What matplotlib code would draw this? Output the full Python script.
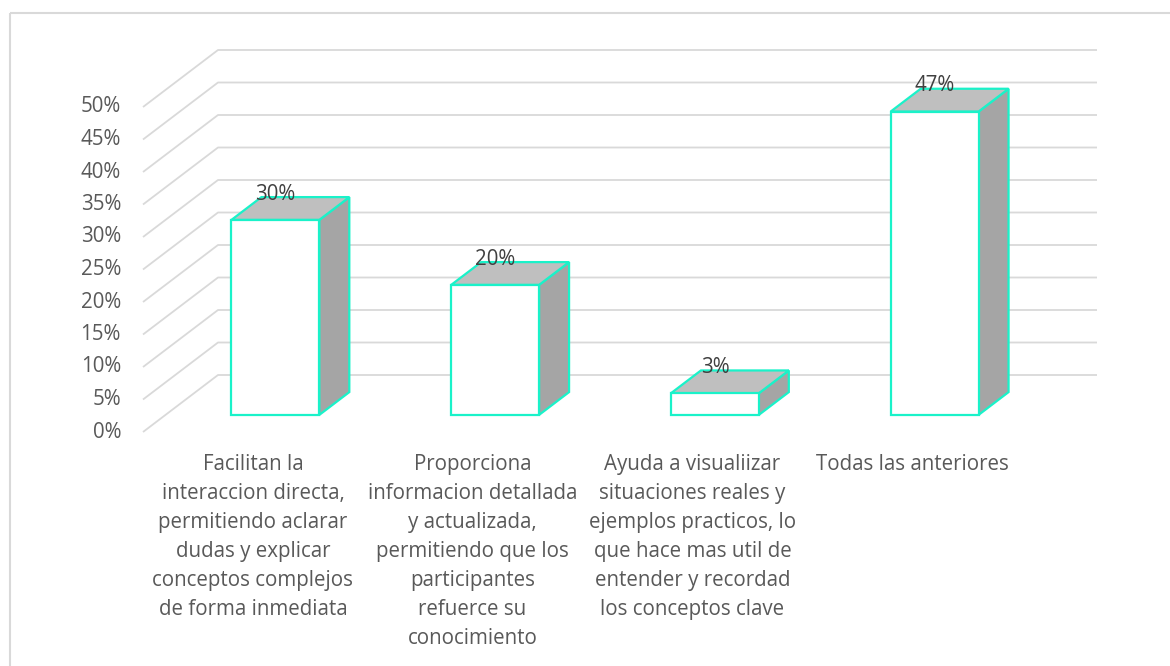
import matplotlib.pyplot as plt
from matplotlib.patches import Polygon, Rectangle

plt.rcParams['font.family'] = ['Open Sans', 'DejaVu Sans']

# --- datos ---
categorias = [
    "Facilitan la\ninteraccion directa,\npermitiendo aclarar\ndudas y explicar\nconceptos complejos\nde forma inmediata",
    "Proporciona\ninformacion detallada\ny actualizada,\npermitiendo que los\nparticipantes\nrefuerce su\nconocimiento",
    "Ayuda a visualiizar\nsituaciones reales y\nejemplos practicos, lo\nque hace mas util de\nentender y recordad\nlos conceptos clave",
    "Todas las anteriores",
]
valores = [30.0, 20.0, 3.33, 46.67]   # %
ticks = [0, 5, 10, 15, 20, 25, 30, 35, 40, 45, 50]

# --- geometria del grafico 3D (pixeles) ---
X0, Y0 = 143, 432        # esquina frontal izquierda del piso (0%)
PX_PCT = 6.5             # pixeles por punto porcentual
DX, DY = 75, 57          # desplazamiento de profundidad
ANCHO = 879              # ancho del area de trazado
D0, D1 = 0.3, 0.7        # profundidad de las barras
FRAC_BARRA = 0.4

grid_c = '#d9d9d9'
borde_c = '#1af2c9'
txt_c = '#595959'
FS = 14.8


def proj(u, v, d):
    return (u + DX * d, Y0 - PX_PCT * v - DY * d)


fig = plt.figure(figsize=(11.7, 6.66), dpi=100)
ax = fig.add_axes([0, 0, 1, 1])
ax.set_xlim(0, 1170)
ax.set_ylim(666, 0)
ax.axis('off')

# marco del grafico
ax.add_patch(Rectangle((10, 13), 1200, 700, fill=False, ec=grid_c, lw=1.5))

# lineas de cuadricula (pared lateral + pared del fondo)
for t in ticks:
    p0 = proj(X0, t, 0)
    p1 = proj(X0, t, 1)
    p2 = proj(X0 + ANCHO, t, 1)
    ax.plot([p0[0], p1[0], p2[0]], [p0[1], p1[1], p2[1]], color=grid_c, lw=1.3,
            solid_capstyle='butt', zorder=1)
    ax.text(p0[0] - 22, p0[1], f"{t}%", ha='right', va='center',
            fontsize=FS, color=txt_c)

# barras
slot = ANCHO / len(valores)
bw = slot * FRAC_BARRA
for i, v in enumerate(valores):
    uc = X0 + slot * (i + 0.5)
    ul, ur = uc - bw / 2, uc + bw / 2
    frente = [proj(ul, 0, D0), proj(ur, 0, D0), proj(ur, v, D0), proj(ul, v, D0)]
    arriba = [proj(ul, v, D0), proj(ur, v, D0), proj(ur, v, D1), proj(ul, v, D1)]
    lado = [proj(ur, 0, D0), proj(ur, 0, D1), proj(ur, v, D1), proj(ur, v, D0)]
    ax.add_patch(Polygon(lado, closed=True, fc='#a5a5a5', ec=borde_c, lw=1.6,
                         joinstyle='miter', zorder=3))
    ax.add_patch(Polygon(arriba, closed=True, fc='#bfbfbf', ec=borde_c, lw=1.6,
                         joinstyle='miter', zorder=3))
    ax.add_patch(Polygon(frente, closed=True, fc='white', ec=borde_c, lw=1.6,
                         joinstyle='miter', zorder=4))
    lx = proj(uc, v, D0)[0]
    ly = proj(uc, v, D1)[1]
    ax.text(lx, ly - 3, f"{v:.0f}%", ha='center', va='center', fontsize=FS,
            color='#404040', zorder=5)
    cx, cy = proj(uc, 0, 0)
    ax.text(cx, cy + 22, categorias[i], ha='center', va='top', fontsize=FS,
            color=txt_c, linespacing=1.5)

fig.savefig('out.png', dpi=100)
